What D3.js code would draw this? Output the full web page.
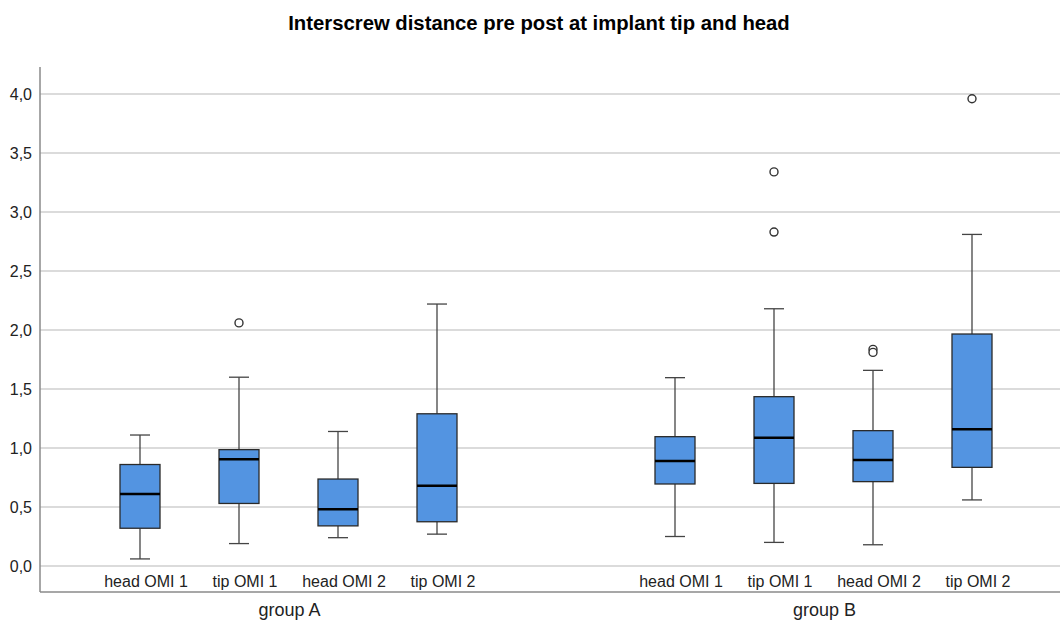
<!DOCTYPE html>
<html>
<head>
<meta charset="utf-8">
<script src="https://cdn.jsdelivr.net/npm/d3@7"></script>
<style>
  body { margin: 0; background: #fff; }
  svg { display: block; font-family: "Liberation Sans", Arial, sans-serif; }
</style>
</head>
<body>
<svg id="chart" width="1060" height="621"></svg>
<script>
// ── Data ──────────────────────────────────────────────────────────────────
const groups = ['group A', 'group B'];
const categories = ['head OMI 1', 'tip OMI 1', 'head OMI 2', 'tip OMI 2'];
const yTicks = [0, 0.5, 1, 1.5, 2, 2.5, 3, 3.5, 4];

// one row per group, one value per category
const whiskerLow  = [[0.06, 0.19, 0.24, 0.27], [0.25, 0.20, 0.18, 0.56]];
const quartile1   = [[0.32, 0.53, 0.34, 0.375], [0.695, 0.70, 0.715, 0.836]];
const medians     = [[0.61, 0.905, 0.48, 0.68], [0.89, 1.087, 0.898, 1.158]];
const quartile3   = [[0.86, 0.986, 0.737, 1.29], [1.096, 1.435, 1.147, 1.966]];
const whiskerHigh = [[1.11, 1.60, 1.14, 2.22], [1.596, 2.18, 1.658, 2.81]];
const outliers    = [[[], [2.06], [], []], [[], [3.34, 2.83], [1.836, 1.81], [3.96]]];

(function () {
  'use strict';

  const svg = d3.select('#chart');
  const W = 1060;
  const plot = { left: 40, top: 67, bottom: 592 };

  const y = d3.scaleLinear().domain([0, 4]).range([566, 94]);
  const xGroup = d3.scaleBand().domain(groups).range([21, 1091]);
  const xCat = d3.scalePoint().domain(categories).range([-148.5, 148.5]);
  const cx = (g, c) => xGroup(g) + xGroup.bandwidth() / 2 + xCat(c);
  const fmt = d3.formatLocale({ decimal: ',', thousands: '.', grouping: [3], currency: ['', ''] }).format('.1f');

  // title
  svg.append('text')
    .attr('x', 539).attr('y', 30)
    .attr('text-anchor', 'middle')
    .attr('font-size', 20.3).attr('font-weight', 'bold')
    .text('Interscrew distance pre post at implant tip and head');

  // gridlines
  svg.append('g').selectAll('line').data(yTicks).join('line')
    .attr('x1', plot.left).attr('x2', W)
    .attr('y1', d => y(d)).attr('y2', d => y(d))
    .attr('stroke', '#cfcfcf').attr('stroke-width', 1.5);

  // y axis
  const yAxis = svg.append('g')
    .attr('transform', `translate(${plot.left},0)`)
    .call(d3.axisLeft(y).tickValues(yTicks).tickFormat(fmt).tickSize(0).tickPadding(8));
  yAxis.select('.domain').remove();
  yAxis.selectAll('text').attr('font-size', 16).attr('fill', '#222')
    .attr('font-family', '"Liberation Sans", Arial, sans-serif');

  svg.append('line')
    .attr('x1', plot.left).attr('x2', plot.left)
    .attr('y1', plot.top).attr('y2', plot.bottom)
    .attr('stroke', '#8a8a8a').attr('stroke-width', 1.5);
  svg.append('line')
    .attr('x1', plot.left).attr('x2', W)
    .attr('y1', plot.bottom).attr('y2', plot.bottom)
    .attr('stroke', '#8a8a8a').attr('stroke-width', 1.5);

  // category and group labels (SPSS sets them slightly right of the boxes)
  groups.forEach(g => {
    svg.append('g').selectAll('text').data(categories).join('text')
      .attr('x', c => cx(g, c) + 6).attr('y', 587)
      .attr('text-anchor', 'middle').attr('font-size', 16).attr('fill', '#222')
      .text(c => c);
    svg.append('text')
      .attr('x', xGroup(g) + xGroup.bandwidth() / 2 + 1).attr('y', 616)
      .attr('text-anchor', 'middle').attr('font-size', 18).attr('fill', '#222')
      .text(g);
  });

  // boxes
  const boxW = 40, capW = 20;
  const boxes = [];
  groups.forEach((g, gi) => categories.forEach((c, ci) => boxes.push({
    x: cx(g, c),
    lo: whiskerLow[gi][ci], q1: quartile1[gi][ci], med: medians[gi][ci],
    q3: quartile3[gi][ci], hi: whiskerHigh[gi][ci], out: outliers[gi][ci]
  })));

  const bg = svg.append('g').selectAll('g').data(boxes).join('g');

  bg.append('line')
    .attr('x1', d => d.x).attr('x2', d => d.x)
    .attr('y1', d => y(d.hi)).attr('y2', d => y(d.q3))
    .attr('stroke', '#444').attr('stroke-width', 1.3);
  bg.append('line')
    .attr('x1', d => d.x).attr('x2', d => d.x)
    .attr('y1', d => y(d.q1)).attr('y2', d => y(d.lo))
    .attr('stroke', '#444').attr('stroke-width', 1.3);
  ['hi', 'lo'].forEach(k => bg.append('line')
    .attr('x1', d => d.x - capW / 2).attr('x2', d => d.x + capW / 2)
    .attr('y1', d => y(d[k])).attr('y2', d => y(d[k]))
    .attr('stroke', '#444').attr('stroke-width', 1.3));

  bg.append('rect')
    .attr('x', d => d.x - boxW / 2).attr('width', boxW)
    .attr('y', d => y(d.q3)).attr('height', d => y(d.q1) - y(d.q3))
    .attr('fill', '#5394e1').attr('stroke', '#2a2a2a').attr('stroke-width', 1.3);

  bg.append('line')
    .attr('x1', d => d.x - boxW / 2).attr('x2', d => d.x + boxW / 2)
    .attr('y1', d => y(d.med)).attr('y2', d => y(d.med))
    .attr('stroke', '#000').attr('stroke-width', 2.5);

  bg.selectAll('circle').data(d => d.out.map(v => ({ x: d.x, v }))).join('circle')
    .attr('cx', d => d.x).attr('cy', d => y(d.v)).attr('r', 4)
    .attr('fill', '#fff').attr('stroke', '#333').attr('stroke-width', 1.4);
})();
</script>
</body>
</html>
